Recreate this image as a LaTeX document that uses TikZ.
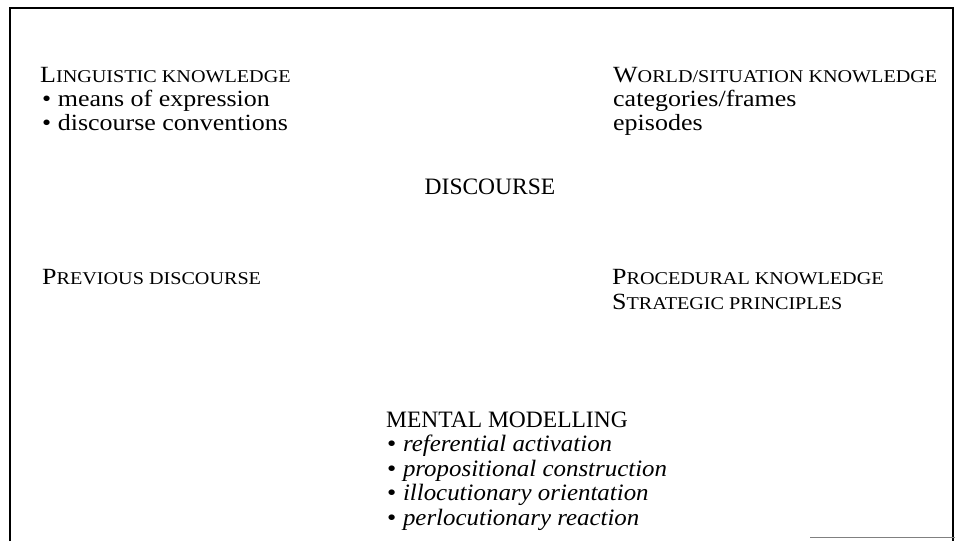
\documentclass[tikz,border=0pt]{standalone}
\usepackage{fontspec}
\setmainfont[FakeStretch=1.12]{Liberation Serif}
\newfontfamily\itfont[FakeStretch=1.06]{Liberation Serif Italic}
\newfontfamily\headfont{Liberation Serif}
\newcommand{\fsc}[2]{#1{\fontsize{18}{20}\selectfont #2}}
\begin{document}
\begin{tikzpicture}[x=1pt,y=-1pt,
  txt/.style={anchor=base west, inner sep=0pt, font=\fontsize{23.2}{25}\selectfont},
  itx/.style={anchor=base west, inner sep=0pt, font=\fontsize{23.5}{25}\selectfont},
  head/.style={anchor=base west, inner sep=0pt, font=\headfont\fontsize{23.5}{25}\selectfont},
  frame/.style={line width=2.2pt, black}]
\useasboundingbox (0,0) rectangle (955,541);
\fill[white] (0,0) rectangle (955,541);
\draw[frame] (10,541) -- (10,8) -- (953,8) -- (953,541);
\draw[line width=0.8pt, gray] (810,537) -- (955,537);
% linguistic knowledge
\node[txt] (lk)  at (40,82)  {\fsc{L}{INGUISTIC KNOWLEDGE}};
\node[txt] (lk1) at (42,106) {• means of expression};
\node[txt] (lk2) at (42,130) {• discourse conventions};
% world knowledge
\node[txt] (wk)  at (613,82)  {\fsc{W}{ORLD/SITUATION KNOWLEDGE}};
\node[txt] (wk1) at (613,106) {categories/frames};
\node[txt] (wk2) at (613,130) {episodes};
% discourse
\node[head,anchor=base] (d) at (490,194) {DISCOURSE};
% previous discourse
\node[txt] (pd) at (42,284) {\fsc{P}{REVIOUS DISCOURSE}};
% procedural
\node[txt] (pk) at (612,284) {\fsc{P}{ROCEDURAL KNOWLEDGE}};
\node[txt] (sp) at (612,309) {\fsc{S}{TRATEGIC PRINCIPLES}};
% mental modelling
\node[head] (mm)  at (386,427) {MENTAL MODELLING};
\node[itx] (mm1) at (387,451.5) {• {\itfont referential activation}};
\node[itx] (mm2) at (387,476) {• {\itfont propositional construction}};
\node[itx] (mm3) at (387,500.5) {• {\itfont illocutionary orientation}};
\node[itx] (mm4) at (387,525) {• {\itfont perlocutionary reaction}};
\end{tikzpicture}
\end{document}
